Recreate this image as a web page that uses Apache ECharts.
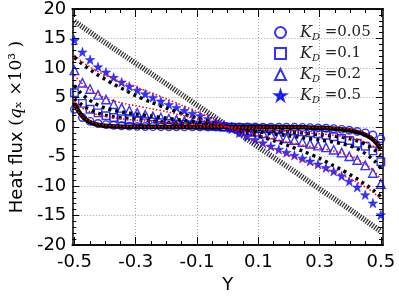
<!DOCTYPE html>
<html><head><meta charset="utf-8">
<script src="https://cdn.jsdelivr.net/npm/echarts@6.0.0/dist/echarts.min.js"></script>
<style>html,body{margin:0;padding:0;background:#fff}#c{width:399px;height:299px}</style>
</head><body><div id="c"></div>
<script>
// ---- data ----
const markerX = [-0.500,-0.474,-0.449,-0.423,-0.397,-0.372,-0.346,-0.321,-0.295,-0.269,-0.244,-0.218,-0.192,-0.167,-0.141,-0.115,-0.090,-0.064,-0.038,-0.013,
  0.013,0.038,0.064,0.090,0.115,0.141,0.167,0.192,0.218,0.244,0.269,0.295,0.321,0.346,0.372,0.397,0.423,0.449,0.474,0.500];
const kd005 = [3.0,1.6,0.95,0.6,0.4,0.28,0.2,0.15,0.11,0.08,0.06,0.05,0.04,0.03,0.02,0.015,0.01,0.007,0.004,0.001,
  -0.001,-0.004,-0.007,-0.01,-0.015,-0.02,-0.03,-0.04,-0.05,-0.07,-0.1,-0.14,-0.2,-0.28,-0.4,-0.55,-0.75,-1.0,-1.35,-2.0];
const kd01 = [5.8,4.0,3.0,2.4,1.9,1.6,1.4,1.25,1.1,0.95,0.85,0.72,0.62,0.52,0.43,0.34,0.26,0.18,0.1,0.03,
  -0.03,-0.08,-0.13,-0.2,-0.27,-0.35,-0.45,-0.55,-0.68,-0.82,-0.98,-1.15,-1.4,-1.65,-1.95,-2.3,-2.75,-3.25,-4.05,-5.9];
const kd02 = [9.6,7.5,6.45,5.45,4.65,3.85,3.25,2.8,2.4,2.05,1.8,1.6,1.4,1.2,1.0,0.8,0.6,0.4,0.25,0.08,
  -0.1,-0.3,-0.55,-0.8,-1.05,-1.3,-1.6,-1.9,-2.2,-2.55,-2.85,-3.15,-3.45,-3.85,-4.35,-4.95,-5.6,-6.5,-7.8,-9.65];
const kd05 = [14.7,12.7,11.4,10.2,9.3,8.4,7.6,6.9,6.2,5.6,5.0,4.4,3.8,3.3,2.8,2.3,1.9,1.4,0.85,0.3,
  -0.35,-1.0,-1.6,-2.15,-2.7,-3.25,-3.8,-4.3,-4.8,-5.3,-5.8,-6.3,-6.9,-7.5,-8.3,-9.2,-10.2,-11.5,-12.9,-14.9];

const modelX = [-0.5,-0.48,-0.46,-0.44,-0.42,-0.4,-0.37,-0.34,-0.3,-0.25,-0.2,-0.15,-0.1,-0.05,0,0.05,0.1,0.15,0.2,0.25,0.3,0.34,0.37,0.4,0.42,0.44,0.46,0.48,0.5];
const redK05 = [12.2,11.3,10.5,9.9,9.3,8.8,8.1,7.5,6.8,5.8,4.8,3.7,2.6,1.35,0,-1.35,-2.6,-3.7,-4.8,-5.8,-6.8,-7.5,-8.1,-8.8,-9.3,-9.9,-10.5,-11.3,-12.2];
const blackK05 = [11.8,10.9,10.1,9.4,8.7,8.1,7.2,6.4,5.3,4.2,3.2,2.3,1.5,0.75,0,-0.75,-1.5,-2.3,-3.2,-4.2,-5.3,-6.4,-7.2,-8.1,-8.7,-9.4,-10.1,-10.9,-11.8];
const redK02 = [8.8,7.6,6.7,6.0,5.4,4.9,4.4,4.0,3.6,3.1,2.6,2.0,1.4,0.7,0,-0.7,-1.4,-2.0,-2.6,-3.1,-3.6,-4.0,-4.4,-4.9,-5.4,-6.0,-6.7,-7.6,-8.8];
const blackK02 = [7.0,5.8,4.9,4.2,3.6,3.2,2.8,2.5,2.2,1.85,1.5,1.15,0.8,0.4,0,-0.4,-0.8,-1.15,-1.5,-1.85,-2.2,-2.5,-2.8,-3.2,-3.6,-4.2,-4.9,-5.8,-7.0];
const redK01 = [4.3,3.4,2.8,2.35,2.0,1.8,1.55,1.35,1.15,0.95,0.75,0.55,0.37,0.18,0,-0.18,-0.37,-0.55,-0.75,-0.95,-1.15,-1.35,-1.55,-1.8,-2.0,-2.35,-2.8,-3.4,-4.3];
const blackK01 = [4.8,3.9,3.2,2.7,2.3,2.0,1.7,1.5,1.3,1.05,0.82,0.6,0.4,0.2,0,-0.2,-0.4,-0.6,-0.82,-1.05,-1.3,-1.5,-1.7,-2.0,-2.3,-2.7,-3.2,-3.9,-4.8];
const redK005 = [3.6,2.1,1.3,0.8,0.5,0.33,0.2,0.13,0.08,0.05,0.03,0.02,0.01,0.005,0,-0.005,-0.01,-0.02,-0.03,-0.05,-0.08,-0.13,-0.2,-0.33,-0.5,-0.8,-1.3,-2.1,-3.6];

const solidX = [-0.5,-0.49,-0.48,-0.47,-0.46,-0.45,-0.44,-0.42,-0.4,-0.38,-0.35,-0.3,-0.2,-0.1,0,0.1,0.2,0.25,0.3,0.35,0.4,0.42,0.44,0.46,0.47,0.48,0.49,0.5];
const solidK005 = [4.0,3.0,2.2,1.6,1.15,0.85,0.62,0.35,0.2,0.12,0.07,0.04,0.02,0.01,0,-0.01,-0.03,-0.06,-0.12,-0.28,-0.6,-0.82,-1.1,-1.6,-1.95,-2.4,-3.0,-3.8];

const linX = [-0.5,-0.4,-0.3,-0.2,-0.1,0,0.1,0.2,0.3,0.4,0.5];
const linY = [17.9,14.3,10.8,7.3,3.7,0.2,-3.4,-6.9,-10.5,-14.0,-17.7];

const legendNames = ['0.05','0.1','0.2','0.5'];
const xMajor = [-0.5,-0.3,-0.1,0.1,0.3,0.5];
const xGrid = [-0.3,-0.1,0.1,0.3];
const xMinor = [-0.45,-0.4,-0.35,-0.25,-0.2,-0.15,-0.05,0,0.05,0.15,0.2,0.25,0.35,0.4,0.45];

// ---- chart ----
const pairs = (xs, ys) => xs.map((x, i) => [x, ys[i]]);
const BLUE = '#0000ff';
const STAR = 'path://M50,0 L61.8,35.4 L99,35.4 L69,57.3 L80.4,92.7 L50,70.8 L19.6,92.7 L31,57.3 L1,35.4 L38.2,35.4 Z';
const SANS = 'DejaVu Sans';
const SERIF = 'DejaVu Serif';

const axisLineStyle = {color: '#000', width: 1.5};
function xAx(pos, ticks, len, extra) {
  return Object.assign({
    type: 'value', position: pos, min: -0.507, max: 0.507,
    axisLine: {show: true, onZero: false, lineStyle: axisLineStyle},
    axisTick: {show: true, inside: true, length: len, customValues: ticks, lineStyle: {color: '#000', width: 1}},
    axisLabel: {show: false},
    splitLine: {show: false}
  }, extra || {});
}
function yAx(pos, extra) {
  return Object.assign({
    type: 'value', position: pos, min: -20, max: 20, interval: 5,
    axisLine: {show: true, onZero: false, lineStyle: axisLineStyle},
    axisTick: {show: true, inside: true, length: 7, lineStyle: {color: '#000', width: 1}},
    minorTick: {show: true, splitNumber: 5, length: 4, lineStyle: {color: '#000', width: 1}},
    axisLabel: {show: false},
    splitLine: {show: false}
  }, extra || {});
}

const gridStyle = {color: '#a0a0a0', width: 1, type: [1, 2]};

const option = {
  animation: false,
  backgroundColor: '#fff',
  grid: {left: 60, right: 16, top: 9, bottom: 41, containLabel: false},
  xAxis: [
    xAx('bottom', xMajor, 8, {
      axisLabel: {show: true, customValues: xMajor, fontFamily: SANS, fontSize: 18, color: '#000', margin: 8},
      name: 'Y', nameLocation: 'middle', nameGap: 31,
      nameTextStyle: {fontFamily: SANS, fontSize: 18, color: '#000'}
    }),
    xAx('bottom', xMinor, 4),
    xAx('top', xMajor, 8),
    xAx('top', xMinor, 4)
  ],
  yAxis: [
    yAx('left', {
      axisLabel: {show: true, fontFamily: SANS, fontSize: 18, color: '#000', margin: 6},
      splitLine: {show: true, lineStyle: gridStyle},
      name: '{n|Heat flux }{m|(}{q|q}{m|ₓ ×10³ )}',
      nameLocation: 'middle', nameGap: 38, nameRotate: 90,
      nameTextStyle: {
        color: '#000',
        rich: {
          n: {fontFamily: SANS, fontSize: 18, color: '#000'},
          m: {fontFamily: SERIF, fontSize: 17, color: '#000'},
          q: {fontFamily: SERIF, fontStyle: 'italic', fontSize: 17, color: '#000'}
        }
      }
    }),
    yAx('right')
  ],
  legend: {
    orient: 'vertical', left: 269, top: 18,
    itemWidth: 11, itemHeight: 11, itemGap: 2,
    data: [
      {name: legendNames[0], icon: 'circle'},
      {name: legendNames[1], icon: 'rect'},
      {name: legendNames[2], icon: 'triangle'},
      {name: legendNames[3], icon: STAR}
    ],
    formatter: n => '{k|K}{d|D}{e| =' + n + '}',
    textStyle: {
      padding: [0, 0, 0, 9],
      rich: {
        k: {fontFamily: SERIF, fontStyle: 'italic', fontSize: 16, color: '#222', lineHeight: 15},
        d: {fontFamily: SERIF, fontStyle: 'italic', fontSize: 10, color: '#222', padding: [9, 0, 0, 0], lineHeight: 15},
        e: {fontFamily: SERIF, fontSize: 15, color: '#222', lineHeight: 15}
      }
    }
  },
  series: [
    {type: 'line', name: 'lin', data: pairs(linX, linY), symbol: 'none', z: 1,
     lineStyle: {color: '#2a2a2a', width: 5.5, type: [1.2, 1.4]},
     markLine: {silent: true, symbol: 'none', z: 0, label: {show: false},
       lineStyle: gridStyle, emphasis: {disabled: true},
       data: xGrid.map(v => ({xAxis: v}))}},
    {type: 'scatter', name: legendNames[0], data: pairs(markerX, kd005), symbol: 'circle', symbolSize: 7.5, z: 2,
     itemStyle: {color: 'rgba(0,0,0,0)', borderColor: BLUE, borderWidth: 1.4}},
    {type: 'scatter', name: legendNames[1], data: pairs(markerX, kd01), symbol: 'rect', symbolSize: 7.5, z: 2,
     itemStyle: {color: 'rgba(0,0,0,0)', borderColor: BLUE, borderWidth: 1.4}},
    {type: 'scatter', name: legendNames[2], data: pairs(markerX, kd02), symbol: 'triangle', symbolSize: 8.5, z: 2,
     itemStyle: {color: 'rgba(0,0,0,0)', borderColor: BLUE, borderWidth: 1.4}},
    {type: 'scatter', name: legendNames[3], data: pairs(markerX, kd05), symbol: STAR, symbolSize: 9.5, z: 2,
     itemStyle: {color: BLUE, borderColor: BLUE, borderWidth: 0.5}},
    {type: 'line', name: 'b05', data: pairs(modelX, blackK05), symbol: 'none', smooth: 0.3, z: 3,
     lineStyle: {color: '#000', width: 3.5, type: [3, 4]}},
    {type: 'line', name: 'b02', data: pairs(modelX, blackK02), symbol: 'none', smooth: 0.3, z: 3,
     lineStyle: {color: '#000', width: 3.5, type: [3, 4]}},
    {type: 'line', name: 'b01', data: pairs(modelX, blackK01), symbol: 'none', smooth: 0.3, z: 3,
     lineStyle: {color: '#000', width: 3.5, type: [3, 4]}},
    {type: 'line', name: 'b005', data: pairs(solidX, solidK005), symbol: 'none', smooth: 0.3, z: 3,
     lineStyle: {color: '#000', width: 4.5}},
    {type: 'line', name: 'r05', data: pairs(modelX, redK05), symbol: 'none', smooth: 0.3, z: 4,
     lineStyle: {color: '#ff0000', width: 1.5, type: [1.5, 2]}},
    {type: 'line', name: 'r02', data: pairs(modelX, redK02), symbol: 'none', smooth: 0.3, z: 4,
     lineStyle: {color: '#ff0000', width: 1.5, type: [1.5, 2]}},
    {type: 'line', name: 'r01', data: pairs(modelX, redK01), symbol: 'none', smooth: 0.3, z: 4,
     lineStyle: {color: '#ff0000', width: 1.5, type: [1.5, 2]}},
    {type: 'line', name: 'r005', data: pairs(modelX, redK005), symbol: 'none', smooth: 0.3, z: 4,
     lineStyle: {color: '#ff0000', width: 1.5, type: [1.5, 2]}}
  ]
};
const chart = echarts.init(document.getElementById('c'), null, {renderer: 'canvas'});
chart.setOption(option);
</script></body></html>
